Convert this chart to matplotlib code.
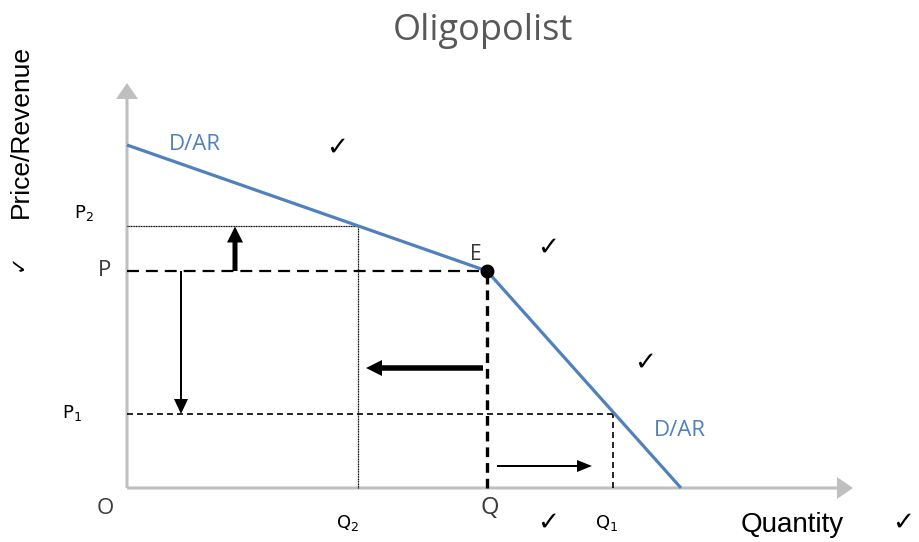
import matplotlib
matplotlib.use("Agg")
import matplotlib.pyplot as plt

plt.rcParams['lines.scale_dashes'] = False
plt.rcParams['mathtext.fontset'] = 'custom'
plt.rcParams['mathtext.rm'] = 'Liberation Sans'
plt.rcParams['mathtext.it'] = 'Liberation Sans'

# ---- data (abstract units: quantity on x, price on y) ----
demand_q = [0.0, 36.0, 55.4]          # kinked demand curve (D/AR)
demand_p = [34.3, 21.7, 0.0]
eq_q, eq_p = 36.0, 21.7               # point E (Q, P)
q2, p2 = 23.1, 26.2                   # higher price P2 -> Q2
q1, p1 = 48.6, 7.4                    # lower price P1 -> Q1
x_axis_end = 72.6
y_axis_end = 40.5

price_labels = ["P$_\\mathregular{2}$", "P", "P$_\\mathregular{1}$"]
price_values = [p2, eq_p, p1]
qty_labels = ["Q$_\\mathregular{2}$", "Q", "Q$_\\mathregular{1}$"]
qty_values = [q2, eq_q, q1]

blue = "#4f81bd"
grey_axis = "#bfbfbf"
grey_txt = "#3a3a3a"

fig = plt.figure(figsize=(9.19, 5.42), dpi=100)
ax = fig.add_axes([0, 0, 1, 1])
ax.set_xlim(-12.7, 79.2)
ax.set_ylim(-5.4, 48.8)
ax.axis('off')

# axes with arrows
ax.arrow(0, 0, 0, y_axis_end, width=0.3, head_width=2.2, head_length=1.6,
         length_includes_head=True, color=grey_axis, lw=0, zorder=1)
ax.arrow(0, 0, x_axis_end, 0, width=0.3, head_width=2.2, head_length=1.6,
         length_includes_head=True, color=grey_axis, lw=0, zorder=1)

# guide lines
ax.plot([0, eq_q], [eq_p, eq_p], color='black', lw=1.6, dashes=(8.6, 5), zorder=2)
ax.plot([eq_q, eq_q], [0, eq_p], color='black', lw=2.4, dashes=(7, 4.3), zorder=2)
ax.plot([0, q1], [p1, p1], color='black', lw=1.2, dashes=(4.3, 2.9), zorder=2)
ax.plot([q1, q1], [0, p1], color='black', lw=1.2, dashes=(4.3, 2.9), zorder=2)
ax.plot([0, q2], [p2, p2], color='black', lw=0.9, dashes=(0.8, 0.4), zorder=2)
ax.plot([q2, q2], [0, p2], color='black', lw=0.9, dashes=(0.8, 0.4), zorder=2)

# demand curve
ax.plot(demand_q, demand_p, color=blue, lw=2.3, solid_capstyle='butt', zorder=3)
ax.plot([eq_q], [eq_p], 'o', color='black', ms=9, zorder=4)

# movement arrows
ax.arrow(10.8, eq_p, 0, p2 - eq_p - 0.05, width=0.5, head_width=1.6, head_length=1.6,
         length_includes_head=True, color='black', lw=0, zorder=5)
ax.arrow(5.4, eq_p, 0, p1 - eq_p, width=0.2, head_width=1.4, head_length=1.5,
         length_includes_head=True, color='black', lw=0, zorder=5)
ax.arrow(35.6, 12.0, -11.7, 0, width=0.55, head_width=1.6, head_length=1.6,
         length_includes_head=True, color='black', lw=0, zorder=5)
ax.arrow(37.0, 2.2, 9.5, 0, width=0.2, head_width=1.2, head_length=1.5,
         length_includes_head=True, color='black', lw=0, zorder=5)

# text
ax.text(35.6, 45.7, "Oligopolist", fontsize=26, color="#595959", family="Open Sans",
        ha='center', va='center')
ax.text(-10.6, 35.6, "Price/Revenue", fontsize=19, rotation=90, family="Liberation Sans",
        ha='center', va='center')
ax.text(66.5, -3.7, "Quantity", fontsize=20, family="Liberation Sans", ha='center', va='center')

ax.text(6.8, 34.4, "D/AR", fontsize=16, color=blue, family="Open Sans", ha='center', va='center')
ax.text(55.3, 5.7, "D/AR", fontsize=16, color=blue, family="Open Sans", ha='center', va='center')
ax.text(34.9, 23.4, "E", fontsize=15, color=grey_txt, family="Open Sans", ha='center', va='center')
ax.text(-2.2, -2.1, "O", fontsize=16, color=grey_txt, family="Open Sans", ha='center', va='center')

# price labels
ax.text(-4.3, price_values[0] + 1.3, price_labels[0], fontsize=13,
        ha='center', va='center')
ax.text(-2.2, price_values[1], price_labels[1], fontsize=16, color=grey_txt,
        family="Open Sans", ha='center', va='center')
ax.text(-5.5, price_values[2] + 0.1, price_labels[2], fontsize=13,
        ha='center', va='center')

# quantity labels
ax.text(qty_values[0] - 1.0, -3.5, qty_labels[0], fontsize=13,
        ha='center', va='center')
ax.text(qty_values[1] + 0.3, -2.0, qty_labels[1], fontsize=17, color=grey_txt,
        family="Open Sans", ha='center', va='center')
ax.text(qty_values[2] - 0.6, -3.5, qty_labels[2], fontsize=13,
        ha='center', va='center')

# check marks
for (cx, cy) in [(21.0, 34.0), (42.1, 24.0), (51.8, 12.5), (42.1, -3.5), (77.6, -3.5)]:
    ax.text(cx, cy, "✓", fontsize=19, family="DejaVu Sans", ha='center', va='center')
ax.text(-10.9, 22.6, "✓", fontsize=15, family="DejaVu Sans", rotation=90,
        ha='center', va='center')

fig.savefig("out.png", dpi=100)
